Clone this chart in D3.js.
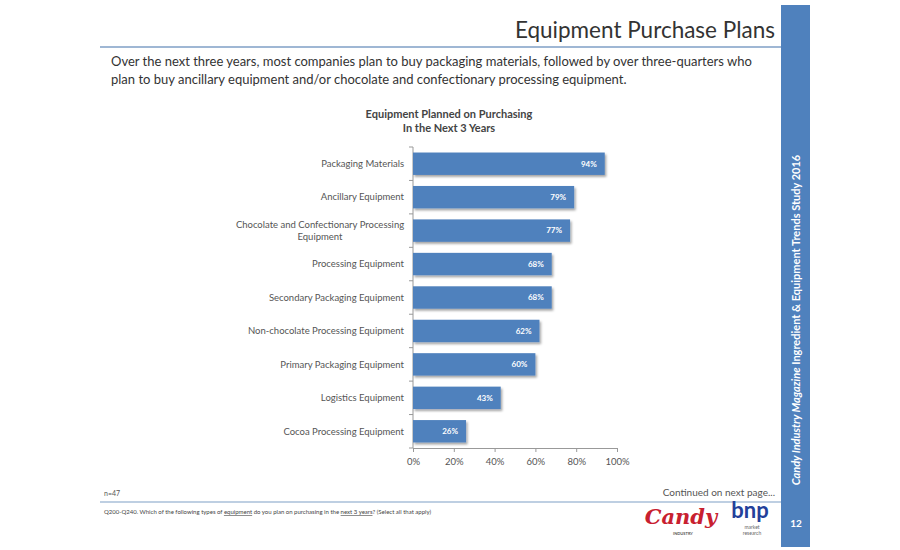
<!DOCTYPE html>
<html>
<head>
<meta charset="utf-8">
<script src="https://cdn.jsdelivr.net/npm/d3@7"></script>
<style>
  html, body { margin: 0; padding: 0; background: #fff; }
  #chart { width: 900px; height: 550px; }
  svg { display: block; }
</style>
</head>
<body>
<div id="chart"></div>
<script>
const categories = [
    "Packaging Materials",
    "Ancillary Equipment",
    "Chocolate and Confectionary Processing|Equipment",
    "Processing Equipment",
    "Secondary Packaging Equipment",
    "Non-chocolate Processing Equipment",
    "Primary Packaging Equipment",
    "Logistics Equipment",
    "Cocoa Processing Equipment"
];
const values = [94, 79, 77, 68, 68, 62, 60, 43, 26];
const xTicks = [0, 20, 40, 60, 80, 100];

const width = 900, height = 550;
const blue = "#4F81BD";
const font = "Lato, 'Open Sans', sans-serif";

const svg = d3.select("#chart")
    .append("svg")
    .attr("width", width)
    .attr("height", height)
    .attr("viewBox", "0 0 " + width + " " + height)
    .attr("font-family", font);

const defs = svg.append("defs");
const shadow = defs.append("filter").attr("id", "shadow")
    .attr("x", "-5%").attr("y", "-20%").attr("width", "115%").attr("height", "160%");
shadow.append("feDropShadow")
    .attr("dx", 1.5).attr("dy", 2).attr("stdDeviation", 1.2)
    .attr("flood-color", "#000").attr("flood-opacity", 0.35);

// slide frame
svg.append("rect")
    .attr("x", 781).attr("y", 5).attr("width", 29).attr("height", 542)
    .attr("fill", blue);
svg.append("line")
    .attr("x1", 100).attr("x2", 781).attr("y1", 47).attr("y2", 47)
    .attr("stroke", "#7f9fc6").attr("stroke-width", 1.5);
svg.append("line")
    .attr("x1", 100).attr("x2", 781).attr("y1", 502).attr("y2", 502)
    .attr("stroke", "#7f9fc6").attr("stroke-width", 1.2);

svg.append("text")
    .attr("x", 775).attr("y", 38)
    .attr("text-anchor", "end")
    .attr("font-size", 22.5)
    .attr("fill", "#333")
    .text("Equipment Purchase Plans");

const subtitle = [
    "Over the next three years, most companies plan to buy packaging materials, followed by over three-quarters who",
    "plan to buy ancillary equipment and/or chocolate and confectionary processing equipment."
];
svg.append("g").selectAll("text")
    .data(subtitle)
    .enter()
    .append("text")
    .attr("x", 111)
    .attr("y", (d, i) => 66 + i * 18)
    .attr("font-size", 13)
    .attr("fill", "#333")
    .text(d => d);

// sidebar text
const side = svg.append("text")
    .attr("transform", "translate(800,320)rotate(-90)")
    .attr("text-anchor", "middle")
    .attr("font-size", 11)
    .attr("font-weight", "bold")
    .attr("fill", "#fff");
side.append("tspan").attr("font-style", "italic").text("Candy Industry Magazine");
side.append("tspan").text(" Ingredient & Equipment Trends Study 2016");

svg.append("text")
    .attr("x", 796).attr("y", 527)
    .attr("text-anchor", "middle")
    .attr("font-size", 10)
    .attr("font-weight", "bold")
    .attr("fill", "#fff")
    .text("12");

// chart title
svg.append("g").selectAll("text")
    .data(["Equipment Planned on Purchasing", "In the Next 3 Years"])
    .enter()
    .append("text")
    .attr("x", 449)
    .attr("y", (d, i) => 118 + i * 14)
    .attr("text-anchor", "middle")
    .attr("font-size", 11)
    .attr("font-weight", "bold")
    .attr("fill", "#444")
    .text(d => d);

// chart
const margin = {left: 413, top: 147};
const innerWidth = 204, innerHeight = 301;

const g = svg.append("g")
    .attr("transform", "translate(" + margin.left + "," + margin.top + ")");

const x = d3.scaleLinear().domain([0, 100]).range([0, innerWidth]);
const y = d3.scaleBand()
    .domain(categories)
    .range([0, innerHeight])
    .paddingInner(0.33)
    .paddingOuter(0.165);

const xAxis = g.append("g")
    .attr("transform", "translate(0," + innerHeight + ")")
    .call(d3.axisBottom(x).tickValues(xTicks).tickFormat(d => d + "%").tickSize(4).tickSizeOuter(0))
    .attr("font-family", font);
xAxis.select(".domain").attr("stroke", "#999");
xAxis.selectAll(".tick line").attr("stroke", "#999");
xAxis.selectAll("text")
    .attr("dy", "1.0em")
    .attr("font-size", 9.5)
    .attr("fill", "#555");

// y axis line with ticks between bands
g.append("line")
    .attr("x1", 0).attr("x2", 0).attr("y1", 0).attr("y2", innerHeight)
    .attr("stroke", "#999");
const step = innerHeight / categories.length;
g.append("g").selectAll("line")
    .data(d3.range(categories.length + 1))
    .enter()
    .append("line")
    .attr("x1", -4).attr("x2", 0)
    .attr("y1", d => d * step).attr("y2", d => d * step)
    .attr("stroke", "#999");

g.selectAll("rect.bar")
    .data(values)
    .enter()
    .append("rect")
    .attr("class", "bar")
    .attr("x", 0)
    .attr("y", (d, i) => y(categories[i]))
    .attr("width", d => x(d))
    .attr("height", y.bandwidth())
    .attr("fill", blue)
    .attr("filter", "url(#shadow)");

g.selectAll("text.val")
    .data(values)
    .enter()
    .append("text")
    .attr("class", "val")
    .attr("x", d => x(d) - 8)
    .attr("y", (d, i) => y(categories[i]) + y.bandwidth() / 2)
    .attr("dy", "0.35em")
    .attr("text-anchor", "end")
    .attr("font-size", 8)
    .attr("font-weight", "bold")
    .attr("fill", "#fff")
    .text(d => d + "%");

const labels = g.selectAll("text.cat")
    .data(categories)
    .enter()
    .append("text")
    .attr("class", "cat")
    .attr("text-anchor", "middle")
    .attr("font-size", 9.5)
    .attr("fill", "#555");
labels.each(function (d) {
    const parts = d.split("|");
    const cy = y(d) + y.bandwidth() / 2;
    const t = d3.select(this);
    if (parts.length === 1) {
        t.attr("text-anchor", "end")
            .append("tspan").attr("x", -9).attr("y", cy).attr("dy", "0.35em").text(parts[0]);
    } else {
        parts.forEach((p, i) => {
            t.append("tspan")
                .attr("x", -93)
                .attr("y", cy + (i - 0.5) * 12)
                .attr("dy", "0.35em")
                .text(p);
        });
    }
});

// footer
svg.append("text")
    .attr("x", 104).attr("y", 496)
    .attr("font-size", 7)
    .attr("fill", "#555")
    .text("n=47");
svg.append("text")
    .attr("x", 775).attr("y", 496)
    .attr("text-anchor", "end")
    .attr("font-size", 10)
    .attr("fill", "#555")
    .text("Continued on next page...");

const q = svg.append("text")
    .attr("x", 104).attr("y", 514)
    .attr("font-size", 6)
    .attr("fill", "#444");
q.append("tspan").text("Q200-Q240. Which of the following types of ");
q.append("tspan").attr("text-decoration", "underline").text("equipment");
q.append("tspan").text(" do you plan on purchasing in the ");
q.append("tspan").attr("text-decoration", "underline").text("next 3 years");
q.append("tspan").text("? (Select all that apply)");

// logos (as text)
svg.append("text")
    .attr("x", 681).attr("y", 524)
    .attr("text-anchor", "middle")
    .attr("font-size", 21)
    .attr("font-weight", "bold")
    .attr("font-style", "italic")
    .attr("font-family", "'DejaVu Serif', serif")
    .attr("fill", "#c8202f")
    .text("Candy");
svg.append("text")
    .attr("x", 683).attr("y", 535)
    .attr("text-anchor", "middle")
    .attr("font-size", 4)
    .attr("font-weight", "bold")
    .attr("fill", "#555")
    .text("INDUSTRY");
svg.append("text")
    .attr("x", 750).attr("y", 518)
    .attr("text-anchor", "middle")
    .attr("font-size", 22)
    .attr("font-weight", "bold")
    .attr("fill", "#23409a")
    .text("bnp");
svg.append("text")
    .attr("x", 752).attr("y", 529)
    .attr("text-anchor", "middle")
    .attr("font-size", 5)
    .attr("fill", "#666")
    .text("market");
svg.append("text")
    .attr("x", 752).attr("y", 535)
    .attr("text-anchor", "middle")
    .attr("font-size", 5)
    .attr("fill", "#666")
    .text("research");
</script>
</body>
</html>
